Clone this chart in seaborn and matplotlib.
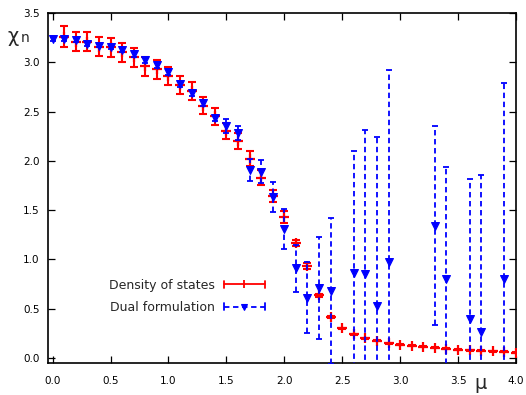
import numpy as np
import pandas as pd
import seaborn as sns
import matplotlib
matplotlib.use("Agg")
import matplotlib.pyplot as plt
from matplotlib.lines import Line2D
from matplotlib.legend_handler import HandlerBase

# density of states data
dos_mu = [0.1, 0.2, 0.3, 0.4, 0.5, 0.6, 0.7, 0.8, 0.9, 1.0,
          1.1, 1.2, 1.3, 1.4, 1.5, 1.6, 1.7, 1.8, 1.9, 2.0,
          2.1, 2.2, 2.3, 2.4, 2.5, 2.6, 2.7, 2.8, 2.9, 3.0,
          3.1, 3.2, 3.3, 3.4, 3.5, 3.6, 3.7, 3.8, 3.9, 4.0]
dos_chi = [3.26, 3.21, 3.21, 3.16, 3.15, 3.10, 3.05, 2.96, 2.93, 2.86,
           2.77, 2.71, 2.56, 2.45, 2.30, 2.20, 2.02, 1.83, 1.64, 1.43,
           1.17, 0.93, 0.635, 0.41, 0.30, 0.24, 0.20, 0.175, 0.15, 0.135,
           0.125, 0.115, 0.105, 0.095, 0.085, 0.078, 0.073, 0.066, 0.06, 0.05]
dos_err = [0.11, 0.10, 0.10, 0.10, 0.10, 0.10, 0.095, 0.095, 0.095, 0.095,
           0.09, 0.09, 0.085, 0.085, 0.08, 0.085, 0.075, 0.08, 0.06, 0.065,
           0.03, 0.03, 0.015, 0.01, 0.005, 0.005, 0.005, 0.005, 0.005, 0.005,
           0.005, 0.005, 0.005, 0.005, 0.005, 0.005, 0.005, 0.005, 0.005, 0.005]

# dual formulation data
dual_mu = [0.0, 0.1, 0.2, 0.3, 0.4, 0.5, 0.6, 0.7, 0.8, 0.9,
           1.0, 1.1, 1.2, 1.3, 1.4, 1.5, 1.6, 1.7, 1.8, 1.9,
           2.0, 2.1, 2.2, 2.3, 2.4, 2.6, 2.7, 2.8, 2.9, 3.3,
           3.4, 3.6, 3.7, 3.9]
dual_chi = [3.24, 3.24, 3.23, 3.19, 3.17, 3.15, 3.12, 3.08, 3.02, 2.97,
            2.90, 2.78, 2.69, 2.59, 2.43, 2.35, 2.28, 1.91, 1.89, 1.63,
            1.31, 0.91, 0.61, 0.71, 0.68, 0.86, 0.85, 0.53, 0.97, 1.34,
            0.80, 0.39, 0.26, 0.80]
dual_err = [0.02, 0.02, 0.02, 0.02, 0.02, 0.02, 0.02, 0.03, 0.03, 0.03,
            0.03, 0.03, 0.03, 0.03, 0.03, 0.07, 0.07, 0.11, 0.12, 0.15,
            0.20, 0.24, 0.36, 0.52, 0.74, 1.24, 1.46, 1.71, 1.95, 1.01,
            1.14, 1.43, 1.60, 1.99]

dos = pd.DataFrame({"mu": dos_mu, "chi": dos_chi, "err": dos_err})
dual = pd.DataFrame({"mu": dual_mu, "chi": dual_chi, "err": dual_err})

sns.set_style("ticks")
plt.rcParams["font.family"] = ["DejaVu Sans"]

fig = plt.figure(figsize=(5.26, 3.95), dpi=100)
ax = fig.add_axes([48 / 526, 1 - 363 / 395, 468 / 526, 350 / 395])

RED = "#ff0000"
BLUE = "#0000ff"

# red: density of states
ax.errorbar(dos["mu"], dos["chi"], yerr=dos["err"], fmt="none",
            ecolor=RED, elinewidth=1.5, capsize=2.7, capthick=1.5, zorder=3)
sns.scatterplot(data=dos, x="mu", y="chi", marker="+", color=RED, s=45,
                linewidth=1.6, ax=ax, zorder=4, legend=False)

# blue: dual formulation
eb = ax.errorbar(dual["mu"], dual["chi"], yerr=dual["err"], fmt="none",
                 ecolor=BLUE, elinewidth=1.3, capsize=2.5, capthick=1.3, zorder=5)
eb[2][0].set_linestyle((0, (3, 2)))
sns.scatterplot(data=dual, x="mu", y="chi", marker="v", color=BLUE, s=32,
                edgecolor=BLUE, linewidth=0.8, ax=ax, zorder=6, legend=False)

ax.set_xlim(-0.04, 4.0)
ax.set_ylim(-0.052, 3.5)
ax.set_xticks(np.arange(0, 4.01, 0.5))
ax.set_yticks(np.arange(0, 3.51, 0.5))
ax.set_xticklabels([f"{v:.1f}" for v in np.arange(0, 4.01, 0.5)])
ax.set_yticklabels([f"{v:.1f}" for v in np.arange(0, 3.51, 0.5)])
ax.tick_params(direction="in", length=5, width=0.9, top=True, right=True,
               labelsize=7.5, colors="black", pad=6)
ax.tick_params(axis="x", pad=9)
for sp in ax.spines.values():
    sp.set_visible(True)
    sp.set_linewidth(1.2)
    sp.set_color("black")
ax.set_xlabel("")
ax.set_ylabel("")

# axis labels as in the original
fig.text(8 / 526, 1 - 42 / 395, "χ", fontsize=14, va="baseline")
fig.text(21 / 526, 1 - 42 / 395, "n", fontsize=10, va="baseline")
fig.text(481 / 526, 1 - 389 / 395, "μ", fontsize=14, ha="center", va="baseline")


class ErrKey(HandlerBase):
    def __init__(self, color, dashed, marker, ms, mew):
        super().__init__()
        self.color = color
        self.dashed = dashed
        self.marker = marker
        self.ms = ms
        self.mew = mew

    def create_artists(self, legend, orig_handle, xdescent, ydescent,
                       width, height, fontsize, trans):
        y = height / 2 - ydescent
        x0, x1 = -xdescent, width - xdescent
        c = height * 0.4
        ls = (0, (3, 2)) if self.dashed else "-"
        arts = [
            Line2D([x0, x1], [y, y], color=self.color, lw=1.3, ls=ls),
            Line2D([x0, x0], [y - c, y + c], color=self.color, lw=1.3),
            Line2D([x1, x1], [y - c, y + c], color=self.color, lw=1.3),
            Line2D([(x0 + x1) / 2], [y], color=self.color, marker=self.marker,
                   ms=self.ms, mew=self.mew, ls="none"),
        ]
        for a in arts:
            a.set_transform(trans)
        return arts


h1 = Line2D([], [])
h2 = Line2D([], [])
ax.legend([h1, h2], ["Density of states", "Dual formulation"],
          handler_map={h1: ErrKey(RED, False, "|", 6, 1.3),
                       h2: ErrKey(BLUE, True, "v", 4.5, 0.8)},
          loc="center right", bbox_to_anchor=(0.4637, 0.19),
          frameon=False, markerfirst=False, fontsize=9,
          handlelength=3.3, handletextpad=0.7, labelspacing=0.75,
          borderpad=0, borderaxespad=0)

fig.savefig("out.png", dpi=100)
